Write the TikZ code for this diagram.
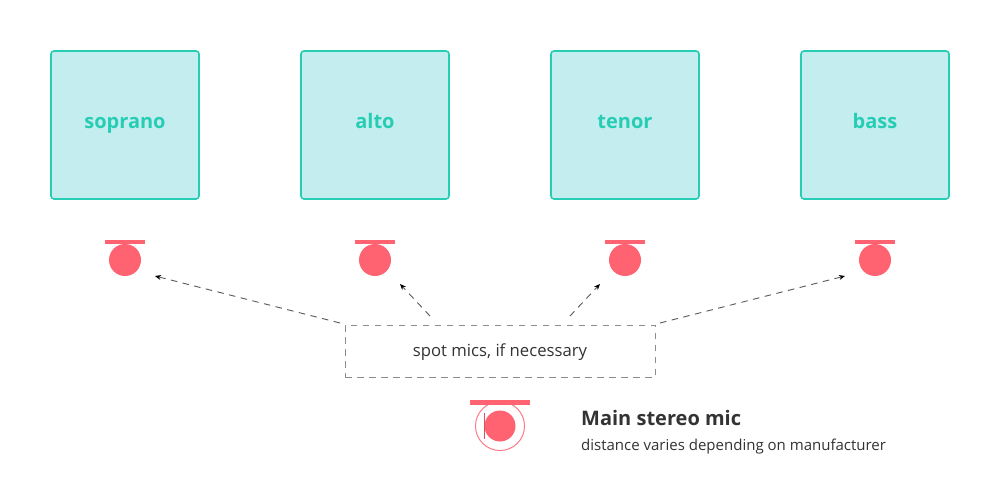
\documentclass[tikz,border=0pt]{standalone}
\usepackage{fontspec}
\setmainfont{Open Sans}
\usetikzlibrary{arrows.meta}
\definecolor{teal1}{HTML}{26CDB4}
\definecolor{tealfill}{HTML}{C4EDEF}
\definecolor{micred}{HTML}{FF6372}
\definecolor{ink}{HTML}{333333}
\tikzset{
  x=1pt,y=-1pt,
  part/.style={draw=teal1,fill=tealfill,line width=1.6pt,rounded corners=3pt,minimum width=148pt,minimum height=148pt,inner sep=0pt,text=teal1,text height=10.5pt,text depth=3.5pt,font=\fontsize{20}{24}\selectfont\bfseries},
  micbar/.style={fill=micred,draw=none,inner sep=0pt,minimum height=4pt,minimum width=40pt},
  mic/.style={fill=micred,draw=none,circle,inner sep=0pt,minimum size=32pt},
  spot/.style={draw=black!45,dash pattern=on 6.5pt off 5.5pt,line width=.9pt,minimum width=310pt,minimum height=52pt,inner sep=0pt,text=ink,text height=13pt,text depth=3pt,font=\fontsize{16.7}{20}\selectfont},
  darrow/.style={draw=black!65,line width=.9pt,dash pattern=on 6.5pt off 5.5pt,-{Stealth[length=6pt,width=5pt,black]}}
}
\begin{document}
\begin{tikzpicture}
\useasboundingbox (0,0) rectangle (1000,500);
\fill[white] (0,0) rectangle (1000,500);
\node[part] (s) at (125,125) {soprano};
\node[part] (a) at (375,125) {alto};
\node[part] (t) at (625,125) {tenor};
\node[part] (b) at (875,125) {bass};
\foreach \n/\x in {s/125,a/375,t/625,b/875}{
  \node[micbar] (bar\n) at (\x,242) {};
  \node[mic] (mic\n) at (\x,260) {};
}
\node[spot] (box) at (500,351) {spot mics, if necessary};
\coordinate (s0) at (340,323); \coordinate (s1) at (155,276);
\coordinate (a0) at (430,316); \coordinate (a1) at (400,284);
\coordinate (t0) at (570,316); \coordinate (t1) at (600,284);
\coordinate (b0) at (660,323); \coordinate (b1) at (845,276);
\draw[darrow] (s0) -- (s1);
\draw[darrow] (a0) -- (a1);
\draw[darrow] (t0) -- (t1);
\draw[darrow] (b0) -- (b1);
\node[draw=micred!85,circle,line width=1pt,minimum size=49pt,inner sep=0pt] (ring) at (500,426) {};
\node[micbar,minimum width=60pt,minimum height=5pt] (mainbar) at (500,402.5) {};
\node[mic,minimum size=31pt] (mainmic) at (500,426) {};
\node[fill=micred!85!black,draw=none,inner sep=0pt,minimum width=1.5pt,minimum height=26pt] (capsule) at (484.5,426) {};
\node[anchor=base west,inner sep=0pt,text=ink,font=\fontsize{20}{24}\selectfont\bfseries] (title) at (581,425) {Main stereo mic};
\node[anchor=base west,inner sep=0pt,text=ink,font=\fontsize{15}{18}\selectfont] (sub) at (581,450) {distance varies depending on manufacturer};
\end{tikzpicture}
\end{document}
